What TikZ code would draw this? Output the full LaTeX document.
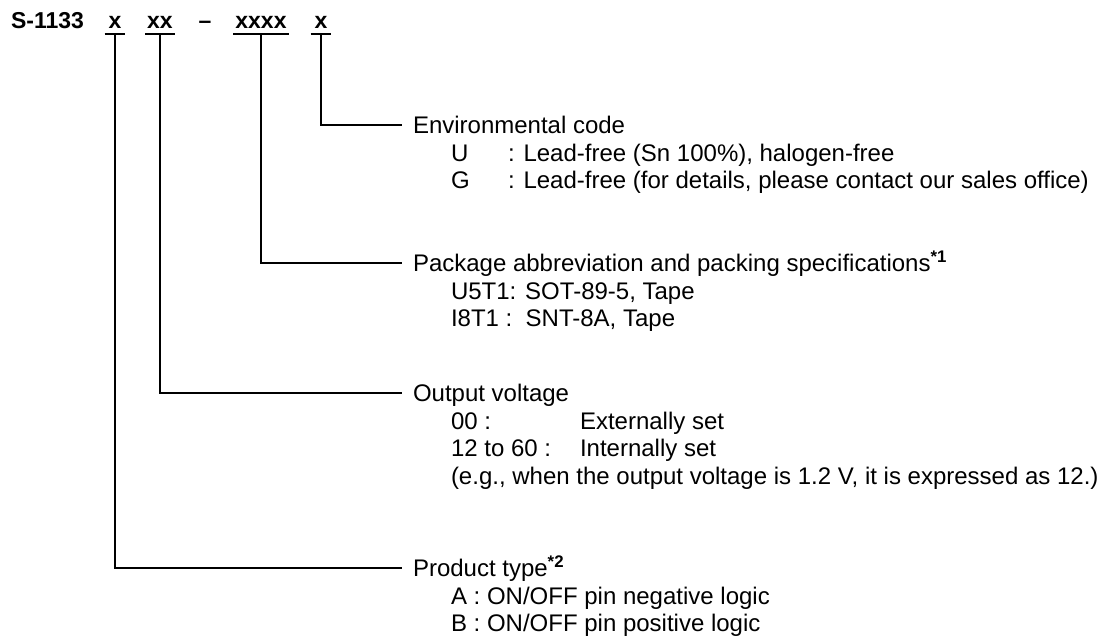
\documentclass[tikz,border=0pt]{standalone}
\usepackage{fontspec}
\setmainfont{Liberation Sans}
\usetikzlibrary{%
    positioning
}
\newcommand{\txtfont}{\fontsize{24}{28}\selectfont}
\tikzset{
    every node/.style = {
        inner sep=0pt,
        outer sep=0pt,
    },
    code/.style = {
        font=\fontsize{23}{28}\selectfont\bfseries,
        inner xsep=2pt,
        text depth=6pt,% <-- south sits on the underline
        anchor=base
    },
    title/.style = {
        font=\txtfont,
        anchor=west,
        text height=17pt,
        text depth=0pt
    },
    item/.style = {title},
    uline/.style = {line width=1.6pt},
    leader/.style = {line width=1.6pt, shorten >=11pt},
}

\begin{document}
\begin{tikzpicture}[x=1pt, y=-1pt]
    \useasboundingbox (0,0) rectangle (1099,643);
    % part number
    \node[code, anchor=base west] (part) at (9,28) {S-1133};
    \node[code, inner xsep=4pt] (cprod) at (115,28) {x};
    \node[code] (cvolt) at (160,28) {xx};
    \node[code] (cdash) at (205,28) {\textendash};
    \node[code] (cpkg) at (261,28) {xxxx};
    \node[code, inner xsep=4pt] (cenv) at (321,28) {x};
    \draw[uline] (cprod.south west) -- (cprod.south east);
    \draw[uline] (cvolt.south west) -- (cvolt.south east);
    \draw[uline] (cpkg.south west) -- (cpkg.south east);
    \draw[uline] (cenv.south west) -- (cenv.south east);

    % environmental code
    \node[title] (env) at (413,125) {Environmental code};
    \node[
        item,
        below right=10.5pt and 38pt of env.south west,
        anchor=north west
    ] (envU) {U};
    \node[item, right=57pt of envU.west] (envUtxt) {: Lead-free (Sn 100\%), halogen-free};
    \node[
        item,
        below=10.5pt of envU.south west,
        anchor=north west
    ] (envG) {G};
    \node[item, right=57pt of envG.west] (envGtxt) {: Lead-free (for details, please contact our sales office)};

    % package
    \node[title] (pkg) at (413,263) {Package abbreviation and packing specifications\textsuperscript{\bfseries *1}};
    \node[
        item,
        below right=10.5pt and 38pt of pkg.south west,
        anchor=north west
    ] (pkgU) {U5T1: SOT-89-5, Tape};
    \node[
        item,
        below=10.5pt of pkgU.south west,
        anchor=north west
    ] (pkgI) {I8T1 :\ \ SNT-8A, Tape};

    % output voltage
    \node[title] (volt) at (413,393) {Output voltage};
    \node[
        item,
        below right=10.5pt and 38pt of volt.south west,
        anchor=north west
    ] (volt00) {00 :};
    \node[item, right=129pt of volt00.west] (volt00txt) {Externally set};
    \node[
        item,
        below=10.5pt of volt00.south west,
        anchor=north west
    ] (volt12) {12 to 60 :};
    \node[item, right=129pt of volt12.west] (volt12txt) {Internally set};
    \node[
        item,
        below=10.5pt of volt12.south west,
        anchor=north west
    ] (volteg) {(e.g., when the output voltage is 1.2 V, it is expressed as 12.)};

    % product type
    \node[title] (prod) at (413,568) {Product type\textsuperscript{\bfseries *2}};
    \node[
        item,
        below right=10.5pt and 38pt of prod.south west,
        anchor=north west
    ] (prodA) {A : ON/OFF pin negative logic};
    \node[
        item,
        below=10.5pt of prodA.south west,
        anchor=north west
    ] (prodB) {B : ON/OFF pin positive logic};

    % leaders
    \draw[leader] (cenv.south) |- (env.west);
    \draw[leader] (cpkg.south) |- (pkg.west);
    \draw[leader] (cvolt.south) |- (volt.west);
    \draw[leader] (cprod.south) |- (prod.west);
\end{tikzpicture}
\end{document}
